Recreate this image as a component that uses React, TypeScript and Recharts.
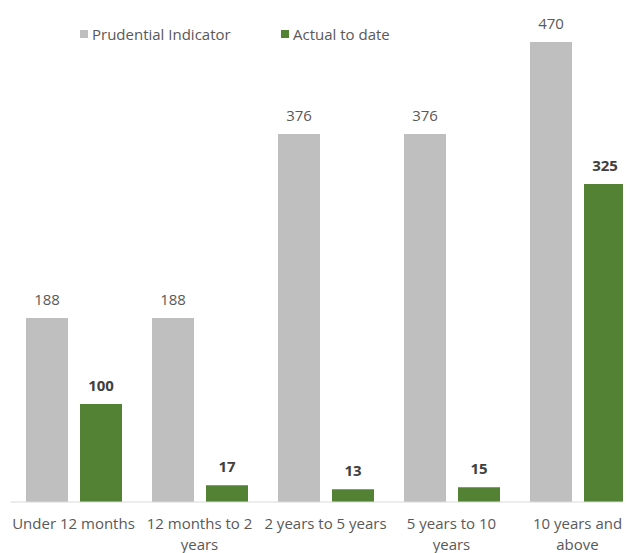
import React from 'react'
import { BarChart, Bar, XAxis, YAxis, LabelList, Text } from 'recharts'

const categories = ['Under 12 months', '12 months to 2 years', '2 years to 5 years', '5 years to 10 years', '10 years and above']
const prudential = [188, 188, 376, 376, 470]
const actual = [100, 17, 13, 15, 325]

const data = categories.map((name, i) => ({ name, prudential: prudential[i], actual: actual[i] }))

const FONT = '"Open Sans", Lato, sans-serif'
const GREY = '#BFBFBF'
const GREEN = '#548235'
const TEXT = '#595959'

function WrappedTick({ x, y, payload }: any) {
  return (
    <Text
      x={x}
      y={y + 8}
      width={136}
      textAnchor="middle"
      verticalAnchor="start"
      lineHeight={21}
      fill={TEXT}
      style={{ fontFamily: FONT, fontSize: 15 }}
    >
      {payload.value}
    </Text>
  )
}

function LegendBox() {
  const item = (color: string, label: string, left: number) => (
    <div style={{ position: 'absolute', left, top: 0, display: 'flex', alignItems: 'center', whiteSpace: 'nowrap' }}>
      <span style={{ width: 8, height: 8, background: color, marginRight: 4, display: 'inline-block' }} />
      <span style={{ fontFamily: FONT, fontSize: 15, color: TEXT }}>{label}</span>
    </div>
  )
  return (
    <div style={{ position: 'absolute', left: 72, top: 16, width: 320, height: 22 }}>
      {item(GREY, 'Prudential Indicator', 0)}
      {item(GREEN, 'Actual to date', 201)}
    </div>
  )
}

export default function App() {
  return (
    <div style={{ width: 623, height: 545, overflow: 'hidden', position: 'relative' }}>
      <BarChart
        width={636}
        height={545}
        data={data}
        margin={{ top: 4.6, right: 3.5, bottom: 0, left: 2.5 }}
        barCategoryGap={15.5}
        barGap={12}
      >
        <XAxis
          dataKey="name"
          interval={0}
          height={51}
          tickLine={false}
          axisLine={{ stroke: '#D9D9D9' }}
          tick={<WrappedTick />}
        />
        <YAxis hide domain={[0, 500]} />
        <Bar dataKey="prudential" fill={GREY} isAnimationActive={false}>
          <LabelList dataKey="prudential" position="top" offset={13} fill={TEXT} style={{ fontFamily: FONT, fontSize: 15 }} />
        </Bar>
        <Bar dataKey="actual" fill={GREEN} isAnimationActive={false}>
          <LabelList dataKey="actual" position="top" offset={13} fill="#404040" style={{ fontFamily: FONT, fontSize: 15, fontWeight: 700 }} />
        </Bar>
      </BarChart>
      <LegendBox />
    </div>
  )
}
